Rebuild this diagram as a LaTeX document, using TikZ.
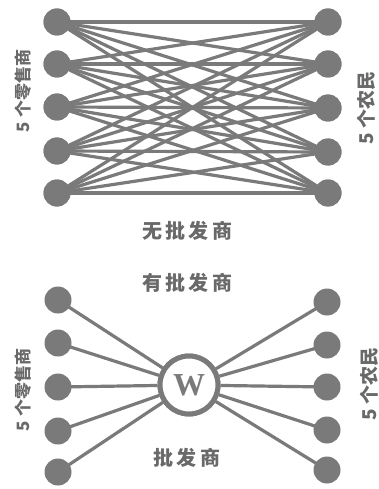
\documentclass[tikz,border=0pt]{standalone}
\usepackage{fontspec}
\newfontfamily\cjk{Noto Sans CJK SC}
\newfontfamily\wfont{Liberation Serif}
\definecolor{ink}{RGB}{122,122,122}
\definecolor{txt}{RGB}{105,105,105}
\tikzset{
  dot/.style={circle,fill=ink,inner sep=0pt,minimum size=27pt},
  wire/.style={draw=ink,line width=3.2pt},
  wire2/.style={draw=ink,line width=3.2pt},
  hub/.style={circle,draw=ink,line width=5pt,fill=white,minimum size=58pt,inner sep=0pt,text=ink},
  title/.style={font=\cjk\bfseries\fontsize{20}{20}\selectfont,text=txt},
  sidel/.style={font=\cjk\bfseries\fontsize{17}{17}\selectfont,text=txt,rotate=90},
  sider/.style={font=\cjk\bfseries\fontsize{19}{19}\selectfont,text=txt,rotate=90}
}
\begin{document}
\begin{tikzpicture}[x=1pt,y=-1pt]
\useasboundingbox (0,0) rectangle (378,489);
% top
\foreach \i/\y in {1/22,2/64,3/107,4/151,5/193}{
  \node[dot] (L\i) at (57,\y) {};
}
\foreach \i/\y in {1/22,2/64,3/108,4/152,5/193}{
  \node[dot] (R\i) at (328,\y) {};
}
\foreach \i in {1,...,5}{
  \foreach \j in {1,...,5}{
    \draw[wire] (L\i.center) -- (R\j.center);
  }
}
\foreach \i in {1,...,5}{
  \node[dot] at (L\i) {};
  \node[dot] at (R\i) {};
}
\node[title] (t1) at (187,231) {无\,批\,发\,商};
\node[sidel] (sl1) at (23,91) {5 个零售商};
\node[sider] (sr1) at (366,108) {5 个农民};
% bottom
\node[title] (t2) at (187,283) {有\,批\,发\,商};
\foreach \i/\y in {1/300,2/343,3/387,4/431,5/472}{
  \node[dot] (BL\i) at (58,\y) {};
}
\foreach \i/\y in {1/302,2/345,3/387,4/430,5/470}{
  \node[dot] (BR\i) at (327,\y) {};
}
\node[hub] (W) at (189,385) {};
\foreach \i in {1,...,5}{
  \draw[wire2] (BL\i.center) -- (W);
  \draw[wire2] (BR\i.center) -- (W);
}
\node[hub] at (W) {\wfont\bfseries\fontsize{32}{32}\selectfont W};
\node[title] (t3) at (187,458) {批\,发\,商};
\node[sidel] (sl2) at (23,390) {5 个零售商};
\node[sider] (sr2) at (369,384) {5 个农民};
\end{tikzpicture}
\end{document}
